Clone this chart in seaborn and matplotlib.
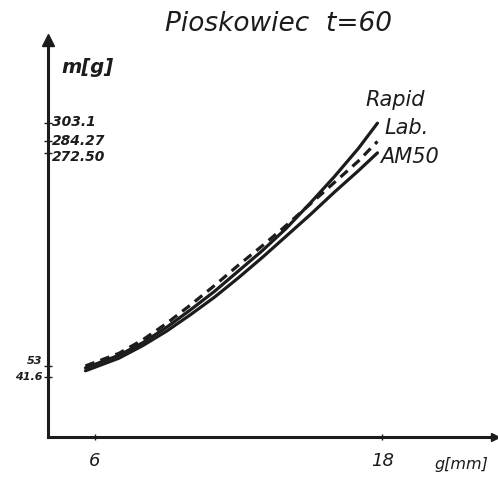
import matplotlib
matplotlib.use("Agg")
import matplotlib.pyplot as plt
import seaborn as sns
import pandas as pd

# values
g_mm = [5.6, 7, 8, 9, 10, 11, 12, 13, 14, 15, 16, 17, 17.8]
m_rapid = [51, 64, 77, 93, 111, 130, 151, 172, 195, 221, 248, 277, 303.1]
m_lab = [53, 66, 80, 97, 116, 136, 157, 177, 198, 220, 242, 264, 284.27]
m_am50 = [48, 61, 74, 89, 106, 124, 144, 165, 187, 209, 232, 254, 272.5]

series_names = ["Rapid", "Lab.", "AM50"]
x_ticks = [6, 18]
y_ticks_top = [303.1, 284.27, 272.50]
y_tick_top_labels = ["303.1", "284.27", "272.50"]
y_ticks_low = [53, 41.6]
y_tick_low_labels = ["53", "41.6"]

df = pd.concat([
    pd.DataFrame({"g": g_mm, "m": m_rapid, "series": "Rapid"}),
    pd.DataFrame({"g": g_mm, "m": m_lab, "series": "Lab."}),
    pd.DataFrame({"g": g_mm, "m": m_am50, "series": "AM50"}),
])

sns.set_theme(style="ticks")
plt.rcParams["font.family"] = ["DejaVu Sans"]
ink = "#1c1c1c"

fig = plt.figure(figsize=(4.98, 4.87), dpi=100)
ax = fig.add_axes([0.0964, 0.1027, 0.898, 0.815])

sns.lineplot(data=df, x="g", y="m", hue="series", style="series",
             palette=[ink] * 3, hue_order=series_names, style_order=series_names,
             dashes={"Rapid": "", "Lab.": (3, 2), "AM50": ""},
             linewidth=2.3, legend=False, ax=ax)

ax.set_xlim(4.035, 22.72)
ax.set_ylim(-20.2, 388.7)
sns.despine(ax=ax)
for side in ["left", "bottom"]:
    ax.spines[side].set_linewidth(2.2)
    ax.spines[side].set_color(ink)

ax.set_xticks(x_ticks)
ax.set_xticklabels([str(t) for t in x_ticks], fontsize=13, style="italic", color=ink)
ax.tick_params(axis="x", direction="inout", length=5, width=1, pad=8, colors=ink)
ax.set_yticks(y_ticks_top + y_ticks_low)
ax.set_yticklabels([])
ax.tick_params(axis="y", direction="inout", length=6, width=1, colors=ink)
ax.set_xlabel("")
ax.set_ylabel("")

ytr = ax.get_yaxis_transform()
# the hand-lettered labels are spread a little apart from their ticks
top_shift = [1, 0, -3]
for v, lab, dy in zip(y_ticks_top, y_tick_top_labels, top_shift):
    ax.annotate(lab, xy=(0.008, v), xycoords=ytr, xytext=(0, dy),
                textcoords="offset points", ha="left", va="center",
                fontsize=10, style="italic", weight="bold", color=ink)
for v, lab, va in zip(y_ticks_low, y_tick_low_labels, ["bottom", "center"]):
    ax.text(-0.012, v, lab, transform=ytr, ha="right", va=va,
            fontsize=8, style="italic", weight="bold", color=ink)

# axis arrows
ax.plot([0], [1.0], marker="^", markersize=9, color=ink, transform=ax.transAxes, clip_on=False)
ax.plot([1.0], [0], marker=">", markersize=6, color=ink, transform=ax.transAxes, clip_on=False)

# axis names
ax.text(0.03, 0.93, "m[g]", transform=ax.transAxes, ha="left", va="center",
        fontsize=14, style="italic", weight="bold", color=ink)
ax.text(0.865, -0.07, "g[mm]", transform=ax.transAxes, ha="left", va="center",
        fontsize=11.5, style="italic", color=ink)

# curve names next to the end points
ends = {"Rapid": m_rapid[-1], "Lab.": m_lab[-1], "AM50": m_am50[-1]}
offsets = {"Rapid": (-0.5, 24), "Lab.": (0.3, 14), "AM50": (0.1, -4)}
for name in series_names:
    dx, dy = offsets[name]
    ax.text(g_mm[-1] + dx, ends[name] + dy, name, ha="left", va="center",
            fontsize=15, style="italic", color=ink)

fig.text(0.56, 0.95, "Pioskowiec  t=60", ha="center", va="center",
         fontsize=19, style="italic", color=ink)

fig.savefig("out.png", dpi=100)
